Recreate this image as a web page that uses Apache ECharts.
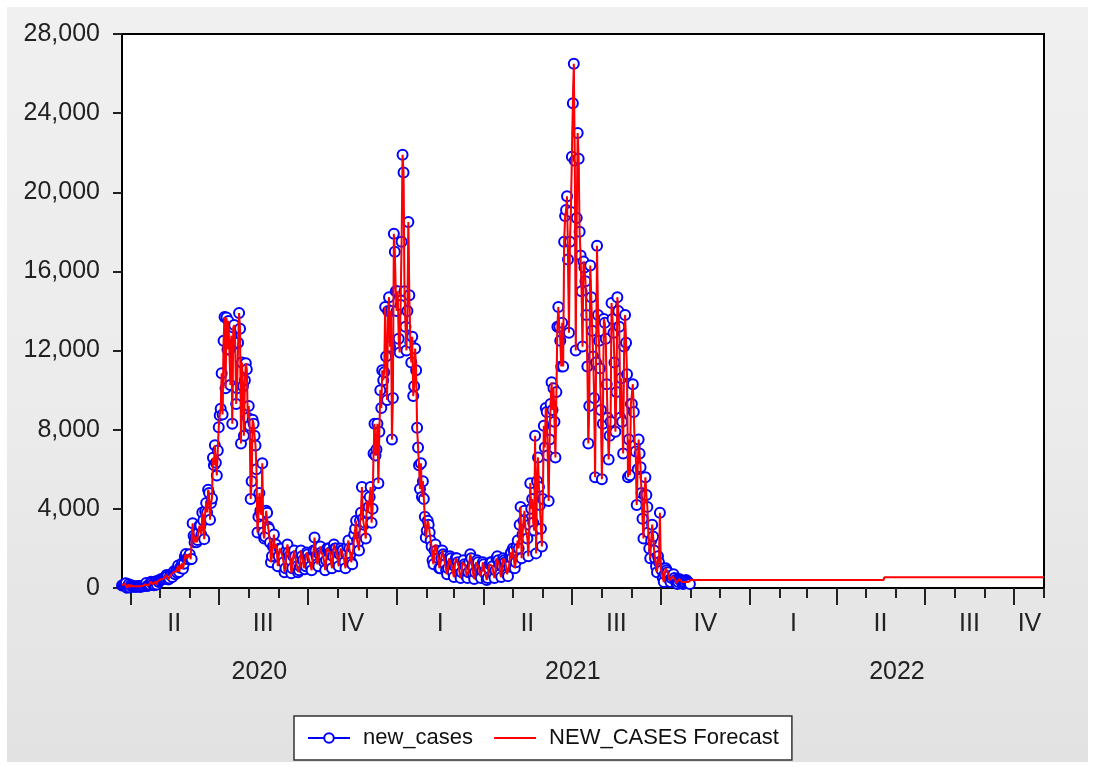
<!DOCTYPE html>
<html>
<head>
<meta charset="utf-8">
<title>new_cases forecast</title>
<script src="https://cdn.jsdelivr.net/npm/echarts@6/dist/echarts.min.js"></script>
<style>
  html, body { margin: 0; padding: 0; background: #fff; }
  #wrap { position: relative; width: 1095px; height: 769px; }
  #bg { position: absolute; left: 7px; top: 7px; right: 7px; bottom: 7px;
        background: linear-gradient(#f0f0f0, #ebebeb 55%, #e2e2e2); }
  #chart { position: absolute; left: 0; top: 0; width: 1095px; height: 769px; }
</style>
</head>
<body>
<div id="wrap">
  <div id="bg"></div>
  <div id="chart"></div>
</div>
<script>
// daily sample, first and last day on the axis
const startDate = "2020-03-23";
const endDate = "2022-11-01";

// new_cases, 2020-03-23 .. 2020-12-31
const cases2020 = [
  128, 152, 155, 218, 243, 17, 93, 193, 27,
  // Apr
  137, 84, 120, 82, 63, 69, 89, 63, 96, 87, 51, 99, 100, 87, 106, 178, 251, 95, 125, 142,
  165, 318, 267, 188, 142, 148, 345, 180, 354, 297,
  // May
  385, 439, 447, 437, 461, 467, 532, 663, 595, 427, 479, 661, 695, 560, 782, 865, 698, 850,
  767, 1134, 810, 1023, 1032, 1240, 975, 1222, 1592, 1716, 1484, 1466, 1580,
  // Jun
  1700, 1450, 1460, 3270, 2640, 2310, 2590, 2310, 2430, 2810, 3150, 3160, 2690, 3810,
  3410, 2470, 3880, 4300, 3820, 4970, 4800, 3450, 4290, 4520, 6580, 6210, 7210, 6330, 5690, 6950,
  // Jul
  8120, 8730, 9060, 10850, 8770, 12500, 13700, 10100, 13670, 12060, 13500, 12060, 10260, 12760,
  8300, 13170, 13290, 12350, 9300, 10100, 12400, 13900, 13100, 7300, 11400, 10200, 7700, 10500,
  11360, 11050, 8600,
  // Aug
  9200, 8200, 4500, 5400, 8500, 8300, 7700, 7200, 6000, 2800, 3600, 4800, 3900, 3700,
  6300, 2800, 2500, 2600, 3900, 3800, 3100, 3000, 2300, 1300, 1600, 2100, 2700, 2000,
  2200, 1900, 1100,
  // Sep
  1600, 2000, 1900, 2000, 1600, 1300, 800, 1000, 1900, 2200, 1800, 1600, 1400, 750,
  1000, 1600, 1900, 1600, 1300, 1100, 800, 900, 1100, 1900, 1600, 1400, 1000, 950, 1100, 1800,
  // Oct
  1700, 1500, 1400, 1100, 900, 1500, 1900, 2550, 1900, 1600, 1200, 1100, 1700, 2100,
  1800, 1700, 1600, 1300, 900, 1400, 2000, 1900, 2000, 1800, 1300, 1000, 1600, 2200,
  2000, 2000, 1800,
  // Nov
  1400, 1100, 1700, 2000, 1900, 1900, 1600, 1300, 1000, 1700, 2100, 2400, 2000, 1700,
  1300, 1200, 2000, 2700, 3000, 3400, 2400, 2300, 1900, 3400, 3800, 5100, 3500, 3200, 3300, 2500,
  // Dec
  4400, 3800, 4100, 4600, 5100, 3300, 4000, 6800, 8300, 6700, 7000, 8300, 5300, 7900,
  10000, 9100, 11000, 10500, 10900, 14200, 11700, 9500, 14000, 14700, 12200, 14000, 7500, 9600,
  17900, 17000, 15000
];

// new_cases, 2021-01-01 .. 2021-10-31
const cases2021 = [
  14000, 15000, 12600, 11900, 14300, 17500, 21900, 21000, 15000, 13200, 12000, 14000, 18500, 14800,
  12400, 11400, 12700, 9700, 10200, 12100, 11000, 8100, 7100, 6200, 5000, 6300, 4600, 5400,
  4500, 3600, 2550,
  // Feb
  2900, 3400, 3200, 2800, 2400, 2100, 1400, 1200, 1900, 2200, 1900, 1700, 1500, 1000,
  1000, 1500, 1900, 1700, 1600, 1200, 900, 700, 1000, 1500, 1600, 1500, 1100, 800,
  // Mar
  550, 1100, 1500, 1500, 1300, 1100, 700, 500, 800, 1300, 1400, 1200, 1100, 600,
  500, 800, 1300, 1700, 1500, 1100, 700, 450, 800, 1300, 1400, 1300, 1000, 600, 500, 900, 1300,
  // Apr
  1200, 800, 700, 400, 500, 1000, 1200, 1300, 1300, 1100, 700, 500, 900, 1500,
  1600, 1400, 1200, 700, 550, 1100, 1500, 1400, 1300, 1100, 700, 600, 1100, 1600, 1800, 1500,
  // May
  2000, 1900, 1000, 1300, 2100, 2400, 2000, 3200, 4100, 1500, 2700, 3400, 3900, 3000,
  2900, 2500, 1600, 3200, 5300, 4000, 4500, 3300, 2900, 7700, 1750, 5400, 6600, 5100,
  4200, 3000, 2100,
  // Jun
  4500, 8200, 7100, 9100, 8900, 6700, 4400, 7500, 9300, 10400, 9000, 10100, 8400, 6600,
  9900, 13200, 14200, 13200, 12500, 11200, 13400, 11200, 17500, 18800, 19100, 19800, 16600, 12900,
  17500, 19000,
  // Jul
  21800, 24500, 26500, 21600, 12000, 18700, 23000, 21700, 18000, 16800, 15000, 12200, 16500, 16200,
  15500, 13800, 11200, 7300, 9200, 16300, 14700, 13000, 11700, 9600, 5600, 11400, 17300, 13800,
  12500, 11100, 9000,
  // Aug
  5500, 8300, 13600, 13400, 12600, 10300, 8600, 6500, 7700, 8400, 14400, 13600, 12900, 11400,
  7900, 9900, 14700, 14000, 13200, 8600, 10600, 8400, 6800, 12200, 13800, 12400, 10800, 5600,
  7500, 5700, 9300,
  // Sep
  9300, 10300, 8900, 7200, 6900, 4200, 6000, 7500, 6800, 6100, 4800, 3500, 2500, 4700,
  5600, 4700, 4100, 2800, 2000, 1500, 2400, 3200, 2600, 1900, 1500, 1100, 800, 1600, 1300, 3800,
  // Oct
  1000, 900, 500, 300, 700, 1000, 900, 800, 600, 400, 300, 500, 600, 700,
  500, 400, 250, 200, 300, 450, 400, 350, 300, 200, 250, 300, 400, 350, 300, 250, 200
];

// out-of-sample forecast: level changes
const forecastDates = ["2021-11-01", "2022-05-19", "2022-05-20", "2022-11-01"];
const forecastValues = [400, 400, 540, 540];

const quarterNames = ["I", "II", "III", "IV"];

function buildDates(start, end) {
  const out = [];
  let t = Date.parse(start + "T00:00:00Z");
  const stop = Date.parse(end + "T00:00:00Z");
  while (t <= stop) {
    out.push(new Date(t).toISOString().slice(0, 10));
    t += 86400000;
  }
  return out;
}

const dates = buildDates(startDate, endDate);
const newCases = cases2020.concat(cases2021);

// label each quarter / year in the middle of its visible span
function spanLabels(keyOf, textOf, minDays) {
  const spans = {};
  dates.forEach((d, i) => {
    const k = keyOf(d);
    if (!spans[k]) spans[k] = { first: i, last: i, date: d };
    spans[k].last = i;
  });
  const labels = {};
  Object.values(spans).forEach((s) => {
    if (s.last - s.first + 1 < minDays) return;
    labels[Math.round((s.first + s.last) / 2)] = textOf(s.date);
  });
  return labels;
}
const quarterOf = (d) => Math.floor((+d.slice(5, 7) - 1) / 3);
const quarterAt = spanLabels((d) => d.slice(0, 4) + "Q" + quarterOf(d), (d) => quarterNames[quarterOf(d)], 20);
const yearAt = spanLabels((d) => d.slice(0, 4), (d) => d.slice(0, 4), 20);

const forecastData = newCases.map((v, i) => [i, v]);
forecastDates.forEach((d, k) => forecastData.push([dates.indexOf(d), forecastValues[k]]));

const font = "'Liberation Sans', Arial, sans-serif";
const tickStyle = { color: "#222", width: 2 };

const chart = echarts.init(document.getElementById("chart"));
chart.setOption({
  animation: false,
  textStyle: { fontFamily: font },
  grid: {
    left: 122,
    right: 51,
    top: 34,
    bottom: 181,
    show: true,
    backgroundColor: "#fff",
    borderColor: "#000",
    borderWidth: 2,
  },
  legend: {
    left: 294,
    top: 716,
    padding: [11, 13],
    itemGap: 20,
    itemWidth: 42,
    itemHeight: 12,
    backgroundColor: "#fff",
    borderColor: "#333",
    borderWidth: 1.5,
    textStyle: { fontSize: 22, color: "#111", fontFamily: font, padding: [0, 0, 0, 8] },
    data: [
      { name: "new_cases" },
      // plain red line in the key, no marker
      { name: "NEW_CASES Forecast", itemStyle: { opacity: 0 } },
    ],
  },
  xAxis: [
    {
      // monthly ticks + quarter labels
      type: "category",
      data: dates,
      boundaryGap: false,
      axisLine: { lineStyle: { color: "#000", width: 2 } },
      axisTick: { interval: (i, v) => v.endsWith("-01"), length: 10, lineStyle: tickStyle },
      axisLabel: {
        interval: (i) => quarterAt[i] !== undefined,
        formatter: (v, i) => quarterAt[i] || "",
        margin: 24,
        fontSize: 25,
        color: "#222",
      },
      splitLine: { show: false },
    },
    {
      // long ticks at quarter starts
      type: "category",
      data: dates,
      boundaryGap: false,
      position: "bottom",
      axisLine: { show: false },
      axisTick: {
        interval: (i, v) => /-(01|04|07|10)-01$/.test(v),
        length: 17,
        lineStyle: tickStyle,
      },
      axisLabel: { show: false },
      splitLine: { show: false },
    },
    {
      // year row
      type: "category",
      data: dates,
      boundaryGap: false,
      position: "bottom",
      axisLine: { show: false },
      axisTick: { show: false },
      axisLabel: {
        interval: (i) => yearAt[i] !== undefined,
        formatter: (v, i) => yearAt[i] || "",
        margin: 72,
        fontSize: 25,
        color: "#222",
      },
      splitLine: { show: false },
    },
  ],
  yAxis: {
    type: "value",
    min: 0,
    max: 28000,
    interval: 4000,
    axisLine: { show: true, lineStyle: { color: "#000", width: 2 } },
    axisTick: { show: true, length: 9, lineStyle: tickStyle },
    axisLabel: {
      fontSize: 25,
      color: "#222",
      margin: 22,
      formatter: (v) => v.toLocaleString("en-US"),
    },
    splitLine: { show: false },
  },
  series: [
    {
      name: "new_cases",
      type: "line",
      xAxisIndex: 0,
      data: newCases,
      symbol: "emptyCircle",
      symbolSize: 10,
      showAllSymbol: true,
      lineStyle: { color: "#0000ff", width: 1 },
      itemStyle: { color: "#0000ff", borderWidth: 1.6 },
      z: 2,
    },
    {
      name: "NEW_CASES Forecast",
      type: "line",
      xAxisIndex: 0,
      data: forecastData,
      symbol: "none",
      lineStyle: { color: "#ff0000", width: 2 },
      itemStyle: { color: "#ff0000" },
      z: 3,
    },
  ],
});
</script>
</body>
</html>
